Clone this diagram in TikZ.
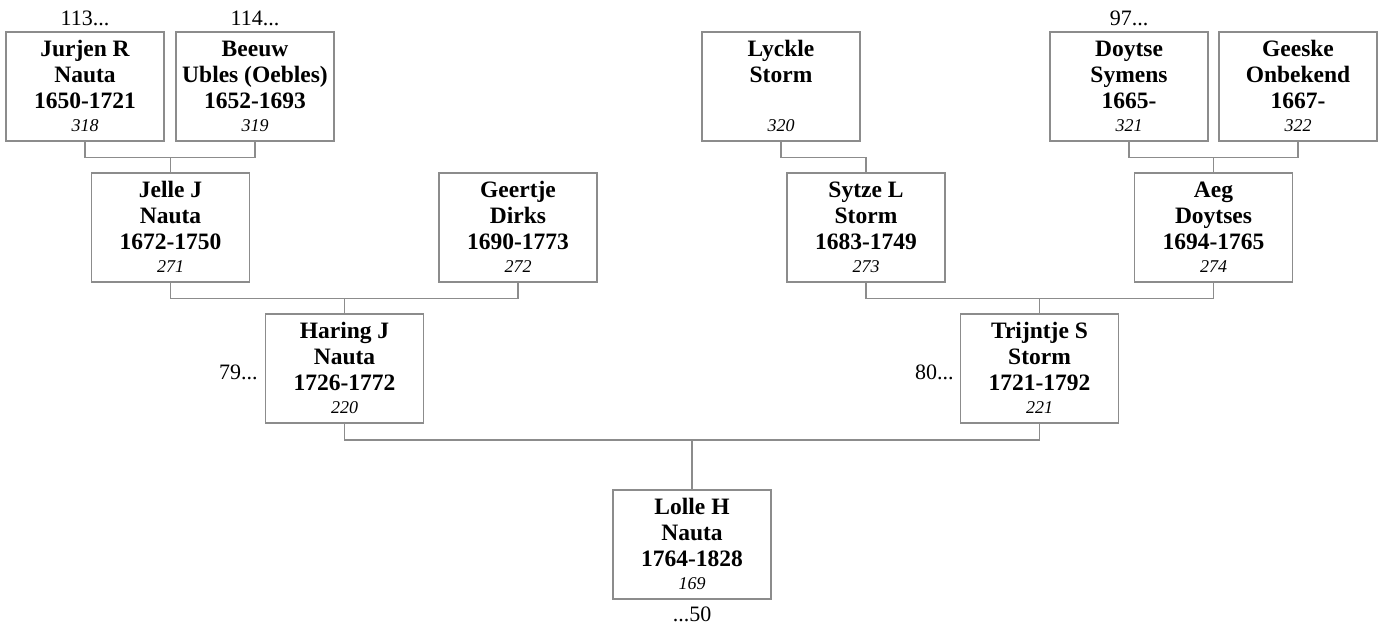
\documentclass[tikz,border=0pt]{standalone}
\usepackage{fontspec}
\setmainfont{Liberation Serif}
\definecolor{linegray}{RGB}{140,140,140}
\newcommand\person[7]{%
  \node[box] (#1) at (#2,#3) {};
  \node[nm] (#1-a) at ([yshift=-25pt]#1.north) {#4};
  \node[nm] (#1-b) at ([yshift=-51pt]#1.north) {#5};
  \node[nm] (#1-c) at ([yshift=-77.5pt]#1.north) {#6};
  \node[num] (#1-d) at ([yshift=-100.5pt]#1.north) {#7};
}
\begin{document}
\begin{tikzpicture}[x=1pt,y=-1pt,
  box/.style={draw=linegray, line width=1.5pt, minimum width=158pt, minimum height=109pt, inner sep=0pt},
  nm/.style={anchor=base, font=\bfseries\fontsize{23.5}{26}\selectfont, inner sep=0pt},
  num/.style={anchor=base, font=\itshape\fontsize{18}{20}\selectfont, inner sep=0pt},
  ref/.style={anchor=base, font=\fontsize{22}{24}\selectfont, inner sep=0pt},
  link/.style={draw=linegray, line width=1.5pt}]
\useasboundingbox (0,0) rectangle (1382,628);

% generation 1
\person{jurjen}{85}{86.5}{Jurjen R}{Nauta}{1650-1721}{318}
\person{beeuw}{255}{86.5}{Beeuw}{Ubles (Oebles)}{1652-1693}{319}
\person{lyckle}{781}{86.5}{Lyckle}{Storm}{}{320}
\person{doytse}{1129}{86.5}{Doytse}{Symens}{1665-}{321}
\person{geeske}{1298}{86.5}{Geeske}{Onbekend}{1667-}{322}
% generation 2
\person{jelle}{170.5}{227.5}{Jelle J}{Nauta}{1672-1750}{271}
\person{geertje}{518}{227.5}{Geertje}{Dirks}{1690-1773}{272}
\person{sytze}{866}{227.5}{Sytze L}{Storm}{1683-1749}{273}
\person{aeg}{1213.5}{227.5}{Aeg}{Doytses}{1694-1765}{274}
% generation 3
\person{haring}{344.5}{368.5}{Haring J}{Nauta}{1726-1772}{220}
\person{trijntje}{1039.5}{368.5}{Trijntje S}{Storm}{1721-1792}{221}
% generation 4
\person{lolle}{692}{544.5}{Lolle H}{Nauta}{1764-1828}{169}

% reference labels
\node[ref] (r113) at ([yshift=5.3pt]jurjen.north) {113...};
\node[ref] (r114) at ([yshift=5.3pt]beeuw.north) {114...};
\node[ref] (r97) at ([yshift=5.3pt]doytse.north) {97...};
\node[ref, anchor=base east] (r79) at ([xshift=-7pt,yshift=-10.5pt]haring.west) {79...};
\node[ref, anchor=base east] (r80) at ([xshift=-6pt,yshift=-10.5pt]trijntje.west) {80...};
\node[ref] (r50) at ([yshift=-22pt]lolle.south) {...50};

% connectors
\draw[link] (jurjen.south) -- ++(0,16) coordinate (jA) -| (beeuw.south);
\draw[link] (jelle.north) -- (jelle.north |- jA);
\draw[link] (lyckle.south) -- ++(0,16) -| (sytze.north);
\draw[link] (doytse.south) -- ++(0,16) coordinate (dA) -| (geeske.south);
\draw[link] (aeg.north) -- (aeg.north |- dA);
\draw[link] (jelle.south) -- ++(0,16) coordinate (gA) -| (geertje.south);
\draw[link] (haring.north) -- (haring.north |- gA);
\draw[link] (sytze.south) -- ++(0,16) coordinate (sA) -| (aeg.south);
\draw[link] (trijntje.north) -- (trijntje.north |- sA);
\draw[link] (haring.south) -- ++(0,16) coordinate (hA) -| (trijntje.south);
\draw[link] (lolle.north) -- (lolle.north |- hA);
\end{tikzpicture}
\end{document}
